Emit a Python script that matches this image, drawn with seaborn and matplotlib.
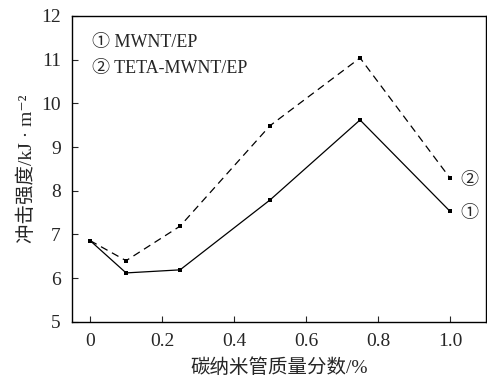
import numpy as np
import pandas as pd
import matplotlib.pyplot as plt
import seaborn as sns

# carbon nanotube mass fraction (%)
content = [0, 0.1, 0.25, 0.5, 0.75, 1.0]
impact_mwnt = [6.86, 6.12, 6.19, 7.79, 9.62, 7.53]
impact_teta = [6.86, 6.40, 7.19, 9.49, 11.04, 8.29]
series_names = ['MWNT/EP', 'TETA-MWNT/EP']

sns.set_style('ticks')
plt.rcParams['font.family'] = ['Liberation Serif', 'DejaVu Serif', 'Noto Sans CJK SC', 'DejaVu Sans']
plt.rcParams['axes.unicode_minus'] = False

df = pd.DataFrame({
    'x': content * 2,
    'y': impact_mwnt + impact_teta,
    'name': [series_names[0]] * len(content) + [series_names[1]] * len(content),
})

fig = plt.figure(figsize=(4.87, 3.8), dpi=100)
ax = fig.add_axes([0.148, 0.153, 0.850, 0.805])

sns.lineplot(data=df, x='x', y='y', style='name', markers=['s', 's'],
             dashes=[(1, 0), (6, 4)], color='black', linewidth=0.9,
             markersize=3.5, markeredgewidth=0, legend=False, ax=ax)

ax.set_xlim(-0.05, 1.1)
ax.set_ylim(5, 12)
ax.set_xticks([0, 0.2, 0.4, 0.6, 0.8, 1.0])
ax.set_xticklabels(['0', '0.2', '0.4', '0.6', '0.8', '1.0'])
ax.set_yticks(range(5, 13))
ax.tick_params(direction='in', labelsize=14, length=4, width=0.8, pad=8)
for s in ax.spines.values():
    s.set_linewidth(1.0)
    s.set_color('black')

ax.set_xlabel('碳纳米管质量分数/%', fontsize=14, labelpad=6)
ax.set_ylabel('冲击强度/kJ · m⁻²', fontsize=14, labelpad=4)

ax.text(0.005, 11.4, '① MWNT/EP', fontsize=13, va='center')
ax.text(0.005, 10.8, '② TETA-MWNT/EP', fontsize=13, va='center')
ax.text(1.03, impact_teta[-1] - 0.05, '②', fontsize=13, va='center')
ax.text(1.03, impact_mwnt[-1] - 0.05, '①', fontsize=13, va='center')

fig.savefig('out.png', dpi=100)
